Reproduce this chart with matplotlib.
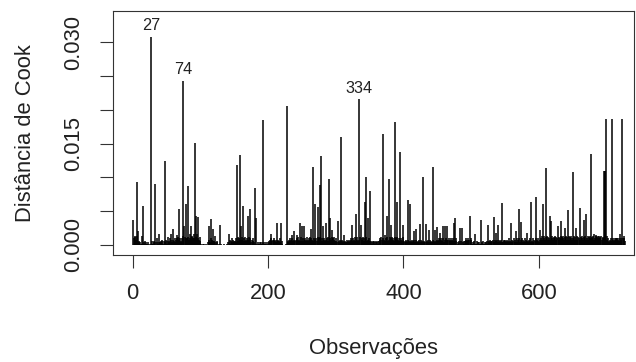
import numpy as np
import matplotlib
matplotlib.use("Agg")
import matplotlib.pyplot as plt

plt.rcParams['font.family'] = ['Liberation Sans', 'DejaVu Sans']

# distancias pequenas (base), em unidades de 0.0002, uma linha por 50 observacoes
base_rows = [
    "35764576322131221312112010013123120121322343135241",
    "34235342643524456345235674658576458676585746857463",
    "10010101002342514353241320101010001000102341352423",
    "35246353424625364352463524532612102112121201211021",
    "23435345434253435243100000133243545434534356345365",
    "53645364354635463546536453645364536453645346354635",
    "32423423423423242342354635463546354635463546536453",
    "23123231232313456465463546354653645364536453645364",
    "32432423423243242342234234234232432423423242342342",
    "34534534523454345345345434530213013102133453454345",
    "12131213121213121312121322343234234234234234232434",
    "23423423424352435243524352435243524352435243524352",
    "46574657465746574657465746574657465746574657465746",
    "57465746574657465746574657465746574657465746574657",
    "453545354535453545354535453",
]

# observacoes com distancia visivel
spike_obs = [1, 6, 8, 13, 15, 27, 33, 36, 39, 47, 52, 56, 59, 65, 68, 74, 76, 79, 81, 86,
             92, 93, 97, 112, 116, 119, 122, 129, 142, 154, 158, 160, 163, 170, 173, 180,
             182, 193, 204, 213, 219, 228, 236, 239, 242, 247, 250, 253, 263, 266, 270,
             274, 276, 278, 281, 285, 290, 292, 295, 303, 307, 312, 324, 330, 334, 337,
             343, 345, 347, 351, 369, 372, 375, 378, 382, 388, 390, 395, 400, 407, 409,
             415, 418, 425, 429, 433, 438, 444, 446, 450, 454, 458, 461, 465, 474, 476,
             484, 486, 498, 506, 514, 525, 534, 536, 540, 546, 556, 559, 566, 570, 574,
             583, 589, 596, 602, 606, 611, 616, 618, 628, 633, 639, 643, 650, 655, 660,
             667, 670, 677, 682, 685, 689, 696, 697, 698, 699, 704, 708, 715, 720, 723, 725]
spike_val = [0.0037, 0.0093, 0.0020, 0.0013, 0.0058, 0.0308, 0.0090, 0.0010, 0.0017, 0.0124,
             0.0012, 0.0017, 0.0023, 0.0015, 0.0054, 0.0243, 0.0028, 0.0060, 0.0087, 0.0028,
             0.0151, 0.0043, 0.0041, 0.0028, 0.0039, 0.0024, 0.0013, 0.0029, 0.0017, 0.0118,
             0.0133, 0.0028, 0.0058, 0.0043, 0.0054, 0.0085, 0.0040, 0.0185, 0.0017, 0.0033,
             0.0033, 0.0205, 0.0015, 0.0020, 0.0015, 0.0033, 0.0028, 0.0028, 0.0023, 0.0116,
             0.0060, 0.0056, 0.0089, 0.0131, 0.0028, 0.0033, 0.0097, 0.0040, 0.0022, 0.0035,
             0.0160, 0.0015, 0.0029, 0.0046, 0.0216, 0.0029, 0.0064, 0.0100, 0.0040, 0.0080,
             0.0164, 0.0015, 0.0043, 0.0097, 0.0029, 0.0182, 0.0064, 0.0137, 0.0029, 0.0066,
             0.0060, 0.0020, 0.0023, 0.0031, 0.0101, 0.0031, 0.0022, 0.0116, 0.0022, 0.0027,
             0.0018, 0.0028, 0.0028, 0.0028, 0.0033, 0.0040, 0.0025, 0.0025, 0.0043, 0.0017,
             0.0037, 0.0030, 0.0041, 0.0018, 0.0030, 0.0062, 0.0010, 0.0033, 0.0020, 0.0054,
             0.0034, 0.0018, 0.0064, 0.0071, 0.0022, 0.0060, 0.0114, 0.0043, 0.0035, 0.0028,
             0.0036, 0.0025, 0.0052, 0.0108, 0.0025, 0.0055, 0.0037, 0.0046, 0.0135, 0.0017,
             0.0015, 0.0013, 0.0110, 0.0110, 0.0110, 0.0187, 0.0005, 0.0187, 0.0010, 0.0017,
             0.0187, 0.0014]

labelled = [27, 74, 334]

cook = np.array([int(c) for c in "".join(base_rows)], dtype=float) * 0.0002
for o, v in zip(spike_obs, spike_val):
    cook[o - 1] = v
obs = np.arange(1, len(cook) + 1)

fig = plt.figure(figsize=(6.36, 3.62), dpi=100)
ax = fig.add_axes([113/636, 1 - 255/362, 521/636, 244/362])

ax.vlines(obs, 0, cook, color='black', lw=1.1)
for o in labelled:
    ax.annotate(str(o), (o, cook[o - 1]), xytext=(0, 2.5), textcoords='offset points',
                ha='center', va='bottom', fontsize=11.7, color='#222222')

ax.set_xlim(-29.1, 740.5)
ax.set_ylim(-0.00148, 0.03463)

ax.set_xticks([0, 200, 400, 600])
ax.set_yticks([0, 0.005, 0.010, 0.015, 0.020, 0.025, 0.030])
ax.set_yticklabels(['0.000', '', '', '0.015', '', '', '0.030'], rotation=90, va='center')

ax.tick_params(axis='both', length=9.5, width=0.8, color='#333333', labelsize=15.8,
               labelcolor='#222222')
ax.tick_params(axis='x', pad=10.5)
ax.tick_params(axis='y', pad=11)

for s in ax.spines.values():
    s.set_linewidth(0.8)
    s.set_color('#333333')

ax.set_xlabel('Observações', fontsize=15.8, color='#222222')
ax.set_ylabel('Distância de Cook', fontsize=15.8, color='#222222')
ax.xaxis.set_label_coords(0.5, -0.34)
ax.yaxis.set_label_coords(-0.148, 0.5)

fig.savefig('out.png', dpi=100)
